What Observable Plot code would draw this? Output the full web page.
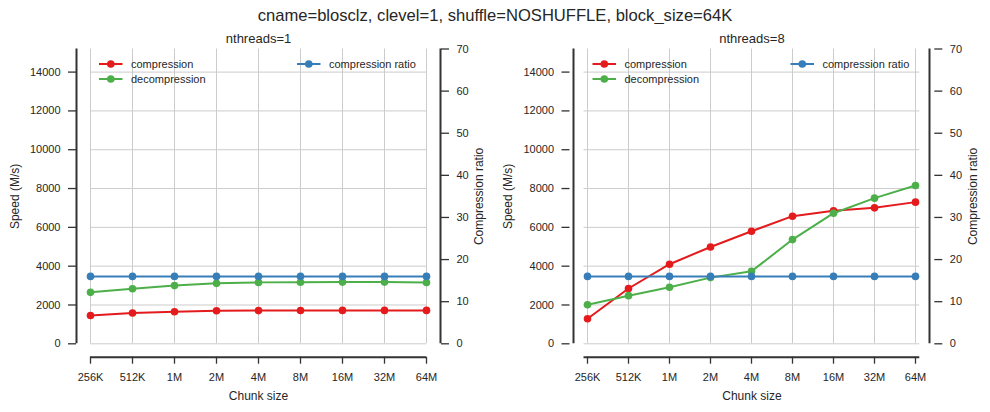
<!DOCTYPE html>
<html><head><meta charset="utf-8">
<script src="https://cdn.jsdelivr.net/npm/d3@7"></script>
<script src="https://cdn.jsdelivr.net/npm/@observablehq/plot@0.6"></script>
<style>
body{margin:0;background:#fff;font-family:"Liberation Sans",Arial,sans-serif;}
#wrap{position:relative;width:990px;height:412px;overflow:hidden;background:#fff;}
#title{position:absolute;left:0;top:0;width:990px;height:32px;line-height:32px;text-align:center;font-size:16.6px;color:#262626;}
.panel{position:absolute;top:24px;}
</style></head><body>
<div id="wrap"><div id="title"></div><div class="panel" id="p1" style="left:0"></div><div class="panel" id="p2" style="left:495px"></div></div>
<script>
const suptitle = "cname=blosclz, clevel=1, shuffle=NOSHUFFLE, block_size=64K";
const chunks = ["256K","512K","1M","2M","4M","8M","16M","32M","64M"];
const panelTitles = ["nthreads=1", "nthreads=8"];
const seriesNames = ["compression", "decompression", "compression ratio"];
const colors = ["#e41a1c", "#4daf4a", "#377eb8"];
const comp1 = [1460, 1590, 1650, 1700, 1710, 1715, 1720, 1720, 1720];
const decomp1 = [2650, 2840, 3000, 3115, 3165, 3170, 3180, 3180, 3160];
const ratio1 = [16.0, 16.0, 16.0, 16.0, 16.0, 16.0, 16.0, 16.0, 16.0];
const comp8 = [1290, 2850, 4100, 4990, 5800, 6576, 6850, 7005, 7300];
const decomp8 = [2015, 2480, 2910, 3410, 3735, 5370, 6730, 7505, 8160];
const ratio8 = [16.0, 16.0, 16.0, 16.0, 16.0, 16.0, 16.0, 16.0, 16.0];
const speedTicks = [0, 2000, 4000, 6000, 8000, 10000, 12000, 14000];
const ratioTicks = [0, 10, 20, 30, 40, 50, 60, 70];
const speedMax = 15190, ratioMax = 70;

document.getElementById("title").textContent = suptitle;

const FONT = '"Liberation Sans", Arial, sans-serif';
const TXT = "#262626", SPINE = "#333333", GRID = "#cccccc";

function panel(el, title, comp, decomp, ratio, ml, mr) {
  const W = 495, H = 388, mt = 24.5, mb = 68.7;
  const k = speedMax / ratioMax;
  const pts = (vals, f = v => v) => vals.map((v, i) => ({x: chunks[i], y: f(v)}));
  const chart = Plot.plot({
    width: W, height: H, marginLeft: ml, marginRight: mr, marginTop: mt, marginBottom: mb,
    style: {fontFamily: FONT, fontSize: "11px", color: TXT, background: "#fff", overflow: "visible"},
    x: {type: "point", domain: chunks, padding: 0},
    y: {domain: [0, speedMax]},
    marks: [
      Plot.gridX(chunks, {stroke: GRID, strokeOpacity: 1, strokeWidth: 1}),
      Plot.gridY(speedTicks, {stroke: GRID, strokeOpacity: 1, strokeWidth: 1}),
      Plot.ruleX([chunks[0]], {dx: -14, stroke: SPINE, strokeWidth: 2}),
      Plot.ruleX([chunks[chunks.length - 1]], {dx: 14, stroke: SPINE, strokeWidth: 2}),
      Plot.ruleY([0], {dy: 13.4, stroke: SPINE, strokeWidth: 2}),
      Plot.axisY(speedTicks, {anchor: "left", dx: -14, tickSize: 8, tickPadding: 8, label: null, tickFormat: "d", stroke: SPINE, strokeWidth: 1.3}),
      Plot.axisY(ratioTicks.map(r => r * k), {anchor: "right", dx: 14, tickSize: 8, tickPadding: 8, label: null, tickFormat: d => String(Math.round(d / k)), stroke: SPINE, strokeWidth: 1.3}),
      Plot.axisX(chunks, {anchor: "bottom", dy: 13.4, tickSize: 7, tickPadding: 9, label: null, stroke: SPINE, strokeWidth: 1.3}),
      Plot.line(pts(comp), {x: "x", y: "y", stroke: colors[0], strokeWidth: 2}),
      Plot.dot(pts(comp), {x: "x", y: "y", fill: colors[0], r: 3.8}),
      Plot.line(pts(decomp), {x: "x", y: "y", stroke: colors[1], strokeWidth: 2}),
      Plot.dot(pts(decomp), {x: "x", y: "y", fill: colors[1], r: 3.8}),
      Plot.line(pts(ratio, v => v * k), {x: "x", y: "y", stroke: colors[2], strokeWidth: 2}),
      Plot.dot(pts(ratio, v => v * k), {x: "x", y: "y", fill: colors[2], r: 3.8}),
      Plot.text([title], {frameAnchor: "top", dy: -10.5, fontSize: 13, fill: TXT, lineAnchor: "middle", textAnchor: "middle"}),
      Plot.text(["Speed (M/s)"], {frameAnchor: "left", dx: -75.5, rotate: -90, fontSize: 12, fill: TXT, lineAnchor: "middle", textAnchor: "middle"}),
      Plot.text(["Compression ratio"], {frameAnchor: "right", dx: 53, rotate: -90, fontSize: 12, fill: TXT, lineAnchor: "middle", textAnchor: "middle"}),
      Plot.text(["Chunk size"], {frameAnchor: "bottom", dy: 52.4, fontSize: 12, fill: TXT, lineAnchor: "middle", textAnchor: "middle"})
    ]
  });
  // legends
  const svg = d3.select(chart);
  const g = svg.append("g").attr("font-family", FONT).attr("font-size", 11).attr("fill", TXT).attr("text-anchor", "start");
  const items = [
    {name: seriesNames[0], c: colors[0], lx: ml + 9, ly: 40},
    {name: seriesNames[1], c: colors[1], lx: ml + 9, ly: 55},
    {name: seriesNames[2], c: colors[2], lx: ml + 207, ly: 40}
  ];
  for (const it of items) {
    g.append("line").attr("x1", it.lx).attr("x2", it.lx + 23.5).attr("y1", it.ly).attr("y2", it.ly)
      .attr("stroke", it.c).attr("stroke-width", 2);
    g.append("circle").attr("cx", it.lx + 11.8).attr("cy", it.ly).attr("r", 3.8).attr("fill", it.c);
    g.append("text").attr("x", it.lx + 32).attr("y", it.ly).attr("dy", "0.35em").attr("text-anchor", "start").text(it.name);
  }
  el.appendChild(chart);
}

panel(document.getElementById("p1"), panelTitles[0], comp1, decomp1, ratio1, 90, 69);
panel(document.getElementById("p2"), panelTitles[1], comp8, decomp8, ratio8, 88.5, 70.7);
</script>
</body></html>
